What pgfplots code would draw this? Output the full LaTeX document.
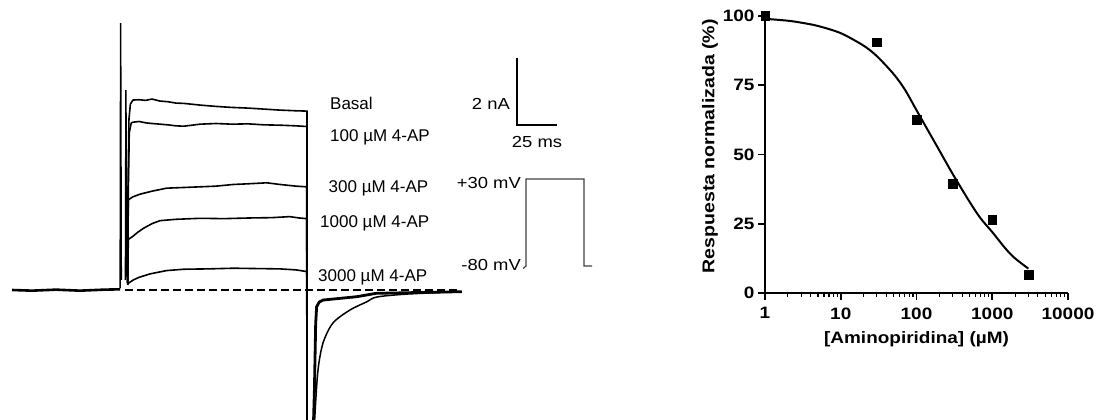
\documentclass[border=0pt]{standalone}
\usepackage{pgfplots}
\pgfplotsset{compat=1.18}
\usepackage{fontspec}
\setmainfont{Liberation Sans}
\newfontfamily\wide[FakeStretch=1.15]{Liberation Sans}

\begin{document}
\begin{tikzpicture}
\useasboundingbox (0pt,0pt) rectangle (1098pt,420pt);

% ---- left panel: current traces (ms vs nA) ----
\begin{axis}[
    at={(0pt,0pt)}, anchor=south west,
    scale only axis, width=600pt, height=420pt,
    hide axis,
    xmin=-75, xmax=300,
    ymin=-3.881, ymax=8.657,
]
% holding baseline
\addplot[black, line width=2.6pt] coordinates {(-67.5,0) (-55,-0.02) (-40,0.01) (-25,-0.02) (-10,0.01) (0,0.02)};
% capacitive transients
\addplot[black, line width=1.5pt] coordinates {(0.1,0.05) (0.4,7.97) (0.8,0.3)};
\addplot[black, line width=1.5pt] coordinates {(3.4,0.3) (3.7,5.97) (4.1,0.4)};
% Basal
\addplot[black, line width=1.6pt] coordinates {(4.6,0.2) (5.0,3.0) (5.6,5.1) (6.5,5.55) (8.1,5.67) (12,5.68) (16,5.66) (20,5.7) (25,5.64) (30,5.62) (35,5.58) (40,5.57) (50,5.52) (60,5.48) (70,5.45) (80,5.43) (90,5.4) (100,5.37) (110,5.35) (116.9,5.34) (116.9,-5)};
% 100 uM
\addplot[black, line width=1.6pt] coordinates {(4.8,0.2) (5.2,3.0) (5.8,4.7) (7,4.98) (8.1,5.01) (12,5.03) (16,4.99) (20,4.97) (25,4.95) (30,4.93) (35,4.9) (40,4.89) (45,4.92) (50,4.95) (60,4.97) (70,4.95) (80,4.96) (90,4.93) (100,4.92) (110,4.9) (116.9,4.88) (116.9,-5)};
% 300 uM
\addplot[black, line width=1.6pt] coordinates {(4.8,0.2) (5.2,2.69) (8,2.78) (12.5,2.86) (20,2.95) (29.2,3.04) (40,3.06) (50,3.08) (60,3.1) (70.8,3.15) (80,3.17) (91.7,3.2) (100,3.15) (110,3.1) (116.7,3.08) (116.9,-5)};
% 1000 uM
\addplot[black, line width=1.6pt] coordinates {(4.8,0.2) (5.2,1.51) (8,1.6) (11,1.72) (14.6,1.84) (20,1.98) (25,2.07) (35,2.11) (50,2.14) (65,2.13) (81,2.15) (95,2.16) (106,2.19) (112,2.15) (116.7,2.13) (116.9,-5)};
% 3000 uM
\addplot[black, line width=1.6pt] coordinates {(4.8,0.15) (5.2,0.2) (8.3,0.3) (12,0.38) (18.75,0.48) (29.2,0.58) (40,0.62) (55,0.63) (70.8,0.65) (85,0.64) (100,0.63) (110,0.6) (116.7,0.55) (116.9,-5)};
% tail currents
\addplot[black, line width=2.8pt] coordinates {(120.3,-5) (121.5,-3) (122.3,-1.0) (122.9,-0.5) (124.5,-0.36) (126.9,-0.30) (148,-0.20) (160,-0.10) (213.6,-0.05)};
\addplot[black, line width=1.5pt, smooth] coordinates {(120.6,-5) (121.9,-3.67) (123.75,-2.39) (126.9,-1.58) (133.1,-0.985) (143.75,-0.597) (154.4,-0.349) (160.6,-0.209) (180,-0.12) (213.6,-0.05)};
% zero-current reference
\addplot[black, line width=2.3pt, dash pattern=on 8pt off 4pt] coordinates {(3,0) (212,0)};
% scale bar
\addplot[black, line width=2.6pt, line join=miter] coordinates {(248.1,6.925) (248.1,4.925) (273.1,4.925)};
% voltage protocol
\addplot[black!75, line width=1.2pt, line join=miter] coordinates {(251.9,0.64) (253.75,0.716) (253.75,3.313) (290,3.313) (290,0.716) (295,0.716)};
\end{axis}

\begin{scope}[every node/.style={inner sep=0pt, font=\fontsize{17}{20}\selectfont}]
\node[anchor=base west] at (330pt,310pt) {Basal};
\node[anchor=base west] at (330pt,278.5pt) {100 µM 4-AP};
\node[anchor=base west] at (328.5pt,227pt) {300 µM 4-AP};
\node[anchor=base west] at (320pt,192pt) {1000 µM 4-AP};
\node[anchor=base west] at (318pt,138pt) {3000 µM 4-AP};
\end{scope}
\begin{scope}[every node/.style={inner sep=0pt, font=\wide\fontsize{16}{19}\selectfont}]
\node[anchor=base east] at (510pt,310pt) {2 nA};
\node[anchor=base] at (537pt,272pt) {25 ms};
\node[anchor=base east] at (521pt,231pt) {+30 mV};
\node[anchor=base east] at (521pt,149pt) {-80 mV};
\end{scope}

% ---- right panel: concentration-response ----
\begin{axis}[
    at={(765pt,127pt)}, anchor=south west,
    scale only axis, width=303pt, height=277pt,
    xmode=log, xmin=1, xmax=10000, ymin=0, ymax=100,
    axis lines*=left,
    axis line style={line width=2pt},
    hide obscured x ticks=false, hide obscured y ticks=false,
    tick align=outside,
    major tick length=7pt, minor tick length=4pt,
    major tick style={line width=1.6pt, black},
    minor tick style={line width=1.1pt, black},
    xtick={1,10,100,1000,10000},
    xticklabels={1,10,100,1000,10000},
    ytick={0,25,50,75,100},
    /pgf/number format/assume math mode=true,
    ticklabel style={font=\wide\bfseries\fontsize{16.5}{19}\selectfont},
    xticklabel style={yshift=-4pt},
    xlabel={[Aminopiridina] (µM)},
    ylabel={Respuesta normalizada (\%)},
    label style={font=\wide\bfseries\fontsize{16.5}{19}\selectfont},
    xlabel style={at={(axis description cs:0.5,0)}, anchor=center, yshift=-46pt},
    ylabel style={at={(axis description cs:-0.182,0.53)}, anchor=center, font=\wide\bfseries\fontsize{17}{19}\selectfont},
    clip=false,
]
\addplot[black, line width=2pt, smooth] coordinates {
(1,99) (2,98.3) (3,97.6) (5,96.4) (10,93.8) (20,89.3) (30,85.5) (50,79) (70,73.5)
(100,66) (150,57.5) (200,51.5) (300,43) (500,33) (700,27) (1000,22) (1500,16) (2000,12.5) (3000,8.8)};
\addplot[only marks, mark=square*, mark size=4.3pt, black] coordinates {
(1,100) (30,90.5) (100,62.5) (300,39.5) (1000,26.5) (3000,6.5)};
\end{axis}
\end{tikzpicture}
\end{document}
